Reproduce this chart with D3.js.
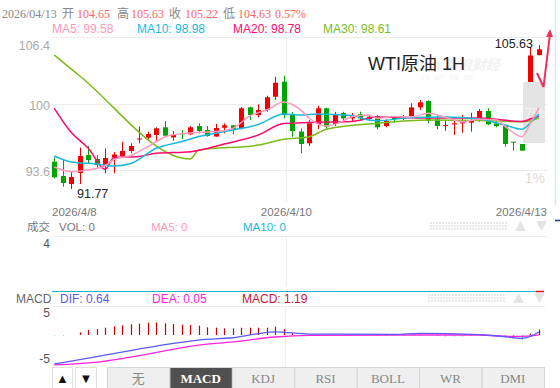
<!DOCTYPE html>
<html><head><meta charset="utf-8">
<script src="https://cdn.jsdelivr.net/npm/d3@7/dist/d3.min.js"></script>
<style>body{margin:0;background:#fff;overflow:hidden}svg{display:block}</style>
</head><body>
<svg id="c" width="560" height="388"></svg>
<script>
// ---- data ----
const opens  = [94.40,93.02,92.25,93.31,95.04,94.66,94.08,94.80,94.95,95.43,96.55,96.71,96.97,97.71,96.74,97.13,97.04,97.83,97.45,96.82,97.67,97.90,97.64,99.63,98.89,99.37,100.65,102.10,98.89,97.30,96.17,98.03,99.54,98.03,99.09,98.57,98.96,98.51,98.80,97.83,98.63,98.54,98.80,99.63,100.24,98.48,97.83,98.00,98.09,98.15,98.34,99.28,98.09,97.83,96.32,96.10,96.30,104.65];
const highs  = [94.82,94.56,93.50,95.75,95.91,95.04,95.67,95.33,96.32,96.17,97.79,97.29,97.71,98.32,97.35,97.45,97.83,98.09,97.83,98.03,98.09,97.95,99.66,99.70,99.92,100.75,102.58,102.68,99.18,97.61,98.41,99.79,99.60,99.18,99.20,99.09,99.21,98.89,98.90,98.48,98.80,98.89,100.02,100.34,100.30,98.80,98.32,98.41,98.89,99.11,99.47,99.54,98.32,97.90,96.32,96.10,105.47,105.63];
const lows   = [92.80,91.99,91.77,92.25,94.27,93.76,93.28,93.28,94.75,95.21,96.17,96.44,96.39,96.82,96.42,96.58,96.97,97.13,96.80,96.80,97.13,97.04,97.50,98.41,98.67,99.21,100.34,98.57,96.80,95.21,95.91,97.55,97.52,97.83,98.25,98.30,98.41,98.34,97.52,97.71,98.15,98.41,98.67,99.37,98.09,97.52,97.38,96.97,97.19,97.29,98.25,97.93,97.71,95.84,95.46,95.46,96.20,104.63];
const closes = [92.90,92.35,92.93,94.95,94.56,94.08,94.75,95.09,95.43,95.91,96.63,97.06,97.61,96.90,97.00,97.04,97.71,97.35,96.87,97.64,97.90,97.50,99.54,98.89,99.37,100.60,102.00,98.89,97.35,96.10,98.09,99.54,97.77,98.99,98.57,98.89,98.57,98.73,97.71,98.32,98.48,98.67,99.63,100.12,98.34,97.83,97.92,98.09,98.19,98.32,99.28,98.00,97.83,96.10,96.23,95.46,104.62,105.22];

// moving averages: [candle index, value]
const ma5Pts  = [[0,93.89],[2,93.44],[4,93.60],[6,94.03],[7,94.61],[9,94.99],[11,95.84],[13,96.78],[15,97.11],[19,97.30],[21,97.61],[23,98.80],[25,99.37],[27,100.14],[28,99.90],[29,99.37],[30,98.58],[32,97.83],[34,98.32],[35,98.73],[37,98.89],[38,98.58],[40,98.75],[42,98.70],[44,99.06],[46,98.67],[48,98.25],[50,98.48],[52,98.43],[53,97.83],[55,96.80],[56,98.05],[57,99.58]];
const ma10Pts = [[0,94.95],[2,94.37],[5,94.18],[7,93.98],[9,94.22],[12,95.69],[15,96.34],[17,96.82],[21,97.45],[24,97.98],[27,98.99],[29,98.89],[31,98.99],[35,98.84],[37,98.41],[38,98.34],[42,98.65],[46,98.70],[50,98.51],[53,97.93],[55,97.52],[56,98.12],[57,98.98]];
const ma20Pts = [[0,99.54],[2,97.20],[4,95.70],[6,93.68],[7,94.78],[10,94.90],[12,95.21],[16,95.36],[20,96.10],[24,96.97],[27,98.07],[30,98.17],[35,98.27],[38,98.70],[44,98.60],[50,98.60],[55,98.27],[56,98.50],[57,98.78]];
const ma30Pts = [[0,104.67],[3,102.65],[16,94.66],[17,95.52],[24,96.00],[27,96.55],[30,96.80],[32,97.52],[38,98.09],[44,98.41],[50,98.36],[55,98.25],[56,98.35],[57,98.61]];

const priceTicks = [106.4, 100, 93.6];
const pctLabels = ["7%", "1%"];
const dateLabels = ["2026/4/8", "2026/4/10", "2026/4/13"];
const headerDate = "2026/04/13";
const headerChange = "0.57%";
const lowLabel = 91.77, highLabel = 105.63;

const macdBars = [-0.1,-0.1,0,0.58,1.09,1.30,1.59,1.88,2.10,2.32,2.46,2.68,2.75,2.54,2.39,2.25,2.17,2.03,1.67,1.59,1.45,1.45,1.59,1.59,1.59,1.59,1.81,1.30,0.40,0,0,0,0,0,0,0,0,0,-0.2,-0.2,-0.2,-0.2,0,0.15,0,-0.25,-0.3,-0.3,-0.3,-0.25,0,0,0,-0.6,-0.8,-1.0,0.3,1.19];
const difPts = [[0,-6.3],[5,-4.7],[12,-2.4],[17,-1.1],[21,-0.6],[26,0.7],[30,0.2],[40,0.15],[43,0.37],[50,0.1],[53,-0.37],[55,-0.72],[56,-0.3],[57,0.64]];
const deaPts = [[0,-6.5],[5,-5.9],[9,-4.8],[17,-2.2],[21,-1.5],[26,-0.43],[30,-0.1],[40,0],[50,0],[54,-0.33],[56,-0.2],[57,0.05]];
const macdTicks = [5, -5];
const tabs = ["无","MACD","KDJ","RSI","BOLL","WR","DMI"];

// ---- drawing ----
const svg = d3.select("#c");
const SANS = "Arial, 'Liberation Sans', 'Noto Sans CJK SC', sans-serif";
const SERIF = "'Liberation Serif', 'Times New Roman', 'Noto Sans CJK SC', serif";
const C = {up:"#f20000", down:"#00a400", ma5:"#ff99bb", ma10:"#19b9dc", ma20:"#ff0a6c", ma30:"#7cbb1a", grid:"#ececec"};
const n = closes.length;
const x = d3.scaleLinear().domain([0, n-1]).range([54.3, 538.8]);
const y = d3.scaleLinear().domain([93.6, 106.4]).range([170, 37]);
const ym = d3.scaleLinear().domain([-5, 5]).range([358, 312]);
const L = 52, R = 547;

// header
const last = n-1;
const hdr = [
  [headerDate, 2, "#888"], ["开", 62, "#888"], [opens[last].toFixed(2), 77, "#f66"],
  ["高", 117, "#888"], [highs[last].toFixed(2), 131, "#f66"],
  ["收", 169, "#888"], [closes[last].toFixed(2), 185, "#f66"],
  ["低", 223, "#888"], [lows[last].toFixed(2), 238, "#f66"], [headerChange, 275, "#f66"]];
svg.selectAll("text.hdr").data(hdr).join("text").attr("class","hdr")
  .attr("x", d=>d[1]).attr("y", 18).attr("fill", d=>d[2])
  .style("font-family", SERIF).style("font-size","12px").text(d=>d[0]);

const legend = [["MA5: ", ma5Pts, C.ma5, 52], ["MA10: ", ma10Pts, C.ma10, 137], ["MA20: ", ma20Pts, C.ma20, 233], ["MA30: ", ma30Pts, C.ma30, 323]];
svg.selectAll("text.leg").data(legend).join("text").attr("class","leg")
  .attr("x", d=>d[3]).attr("y", 33).attr("fill", d=>d[2])
  .style("font-family", SANS).style("font-size","12px")
  .text(d=>d[0] + d[1][d[1].length-1][1].toFixed(2));

// right decorations
svg.append("line").attr("x1",555.5).attr("x2",555.5).attr("y1",0).attr("y2",205).attr("stroke","#d6e8f6").attr("stroke-width",1.5);
svg.append("line").attr("x1",555).attr("x2",560).attr("y1",220.5).attr("y2",220.5).attr("stroke","#223388").attr("stroke-width",1.5);

// grid main
svg.selectAll("line.hg").data(priceTicks).join("line").attr("class","hg")
  .attr("x1",L).attr("x2",R).attr("y1",d=>Math.round(y(d))+0.5).attr("y2",d=>Math.round(y(d))+0.5)
  .attr("stroke",C.grid);
svg.append("line").attr("x1",x(27.3)).attr("x2",x(27.3)).attr("y1",37).attr("y2",202).attr("stroke",C.grid);
svg.selectAll("text.yl").data(priceTicks).join("text").attr("class","yl")
  .attr("x",50).attr("y",(d,i)=> i===0 ? y(d)+13 : y(d)+6).attr("text-anchor","end")
  .attr("fill","#aaa").style("font-family",SANS).style("font-size","12.5px").text(d=>d);

// watermark (faint, sits behind the title as in the original)
svg.append("text").attr("x",412).attr("y",70).attr("fill","#f2f2f2").style("font-family",SANS).style("font-size","14px").style("font-style","italic").style("font-weight","bold").text("sina 新浪财经");
svg.append("text").attr("x",420).attr("y",79).attr("fill","#f3f3f3").style("font-family",SANS).style("font-size","5px").text("文章 · 图片 · 数据 · 服务");

// title
svg.append("text").attr("x",368).attr("y",70).attr("fill","#222").style("font-family",SANS).style("font-size","18px").text("WTI原油 1H");

// candles
const g = svg.append("g");
const idx = d3.range(n);
g.selectAll("line.wick").data(idx).join("line").attr("class","wick")
  .attr("x1",i=>Math.round(x(i))+0.5).attr("x2",i=>Math.round(x(i))+0.5)
  .attr("y1",i=>y(highs[i])).attr("y2",i=>y(lows[i]))
  .attr("stroke",i=>closes[i]>=opens[i]?C.up:C.down).attr("stroke-width",1);
g.selectAll("rect.body").data(idx).join("rect").attr("class","body")
  .attr("x",i=>Math.round(x(i))-2).attr("width",5)
  .attr("y",i=>y(Math.max(opens[i],closes[i])))
  .attr("height",i=>Math.max(1, Math.abs(y(opens[i])-y(closes[i]))))
  .attr("fill",i=>closes[i]>=opens[i]?C.up:C.down);

// grey box + percent labels
svg.append("rect").attr("x",523).attr("y",82).attr("width",22).attr("height",61).attr("fill","#e4e4e4");
svg.selectAll("text.pct").data(pctLabels).join("text").attr("class","pct")
  .attr("x",545).attr("y",(d,i)=>i===0?118:183).attr("text-anchor","end")
  .attr("fill",(d,i)=>i===0?"#f3f3f3":"#dcdcdc").style("font-family",SANS).style("font-size","14px").text(d=>d);

// MA lines
const line = d3.line().x(d=>x(d[0])).y(d=>y(d[1])).curve(d3.curveMonotoneX);
[[ma30Pts,C.ma30],[ma20Pts,C.ma20],[ma10Pts,C.ma10],[ma5Pts,C.ma5]].forEach(([p,c])=>{
  svg.append("path").attr("d",line(p)).attr("fill","none").attr("stroke",c).attr("stroke-width",1.5);
});

// high/low labels
svg.append("text").attr("x",77).attr("y",198).attr("fill","#222").style("font-family",SANS).style("font-size","12.5px").text(lowLabel.toFixed(2));
svg.append("text").attr("x",533).attr("y",48).attr("text-anchor","end").attr("fill","#222").style("font-family",SANS).style("font-size","12.5px").text(highLabel.toFixed(2));

// red arrow
svg.append("line").attr("x1",550).attr("y1",34).attr("x2",543.5).attr("y2",87).attr("stroke","#f0305a").attr("stroke-width",2);
svg.append("path").attr("d","M546,37 L553,37 L550,29 Z").attr("fill","#f0305a");
svg.append("line").attr("x1",537).attr("y1",73).attr("x2",543.5).attr("y2",87).attr("stroke","#f0305a").attr("stroke-width",2);

// date labels
const dPos = [[L,"start"],[x(27.3),"middle"],[R,"end"]];
svg.selectAll("text.dl").data(dateLabels).join("text").attr("class","dl")
  .attr("x",(d,i)=>dPos[i][0]).attr("y",216).attr("text-anchor",(d,i)=>dPos[i][1])
  .attr("fill","#777").style("font-family",SANS).style("font-size","11.5px").text(d=>d);

// volume pane
const vol = [["成交",27,"#777"],["VOL: 0",59,"#777"],["MA5: 0",151,C.ma5],["MA10: 0",243,C.ma10]];
svg.selectAll("text.vl").data(vol).join("text").attr("class","vl")
  .attr("x",d=>d[1]).attr("y",231).attr("fill",d=>d[2]).style("font-family",SANS).style("font-size","11.5px").text(d=>d[0]);
svg.append("line").attr("x1",L).attr("x2",R).attr("y1",236.5).attr("y2",236.5).attr("stroke",C.grid);
svg.append("line").attr("x1",x(27.3)).attr("x2",x(27.3)).attr("y1",236).attr("y2",286).attr("stroke",C.grid);
svg.append("text").attr("x",50).attr("y",248).attr("text-anchor","end").attr("fill","#555").style("font-family",SANS).style("font-size","12px").text("4");

function dotsAndArrows(yy, x0){
  [yy-3, yy, yy+3].forEach(v=>svg.append("line").attr("x1",x0).attr("x2",x0+77).attr("y1",v).attr("y2",v)
     .attr("stroke","#e2e2e2").attr("stroke-width",1.5).attr("stroke-dasharray","2,1"));
  svg.append("path").attr("d",`M${x0+85},${yy+5} L${x0+96},${yy+5} L${x0+90.5},${yy-5} Z`).attr("fill","#e4e4e4");
  svg.append("path").attr("d",`M${x0+106},${yy-5} L${x0+117},${yy-5} L${x0+111.5},${yy+5} Z`).attr("fill","#e4e4e4");
}
dotsAndArrows(226, 430);

// MACD pane
svg.append("line").attr("x1",L).attr("x2",536).attr("y1",291.5).attr("y2",291.5).attr("stroke","#1fb3c6").attr("stroke-width",1);
svg.append("line").attr("x1",536).attr("x2",544).attr("y1",291.5).attr("y2",291.5).attr("stroke","#f00").attr("stroke-width",1.5);
const mleg = [["MACD",16,"#666"],["DIF: "+difPts[difPts.length-1][1].toFixed(2),60,"#5a5af5"],["DEA: "+deaPts[deaPts.length-1][1].toFixed(2),152,"#ff22dd"],["MACD: "+macdBars[n-1].toFixed(2),242,"#cc1438"]];
svg.selectAll("text.ml").data(mleg).join("text").attr("class","ml")
  .attr("x",d=>d[1]).attr("y",303).attr("fill",d=>d[2]).style("font-family",SANS).style("font-size","12px").text(d=>d[0]);
dotsAndArrows(298, 428);
svg.append("line").attr("x1",L).attr("x2",545).attr("y1",306.5).attr("y2",306.5).attr("stroke",C.grid);
svg.append("line").attr("x1",x(27.3)-1).attr("x2",x(27.3)-1).attr("y1",306).attr("y2",368).attr("stroke",C.grid);
svg.selectAll("text.mt").data(macdTicks).join("text").attr("class","mt")
  .attr("x",50).attr("y",d=>ym(d)+5).attr("text-anchor","end").attr("fill","#555")
  .style("font-family",SANS).style("font-size","12px").text(d=>d);
svg.selectAll("line.mb").data(idx.filter(i=>macdBars[i]!==0)).join("line").attr("class","mb")
  .attr("x1",i=>Math.round(x(i))+0.5).attr("x2",i=>Math.round(x(i))+0.5)
  .attr("y1",ym(0)).attr("y2",i=>ym(macdBars[i]))
  .attr("stroke",i=>macdBars[i]>0?"#cc0000":"#2fbfaa").attr("stroke-width",1.2);
const mline = d3.line().x(d=>x(d[0])).y(d=>ym(d[1])).curve(d3.curveMonotoneX);
svg.append("path").attr("d",mline(deaPts)).attr("fill","none").attr("stroke","#ff22dd").attr("stroke-width",1.3);
svg.append("path").attr("d",mline(difPts)).attr("fill","none").attr("stroke","#5a5af5").attr("stroke-width",1.3);

// bottom buttons
const by = 367, bh = 22;
[["▲",52,20],["▼",75,21]].forEach(([t,bx,bw])=>{
  svg.append("rect").attr("x",bx+0.5).attr("y",by+0.5).attr("width",bw).attr("height",bh).attr("fill","#fff").attr("stroke","#e0e0e0");
  svg.append("text").attr("x",bx+bw/2+0.5).attr("y",by+16).attr("text-anchor","middle").attr("fill","#111").style("font-size","13px").style("font-family",SANS).text(t);
});
const tx = d3.scaleBand().domain(tabs).range([107,544]);
svg.selectAll("rect.tab").data(tabs).join("rect").attr("class","tab")
  .attr("x",d=>tx(d)+0.5).attr("y",by+0.5).attr("width",tx.bandwidth()).attr("height",bh)
  .attr("fill",d=>d==="MACD"?"#505050":"#efefef").attr("stroke","#d4d4d4");
svg.selectAll("text.tab").data(tabs).join("text").attr("class","tab")
  .attr("x",d=>tx(d)+tx.bandwidth()/2).attr("y",by+16).attr("text-anchor","middle")
  .attr("fill",d=>d==="MACD"?"#fff":"#888").style("font-weight",d=>d==="MACD"?"bold":"normal")
  .style("font-family",SERIF).style("font-size","13px").text(d=>d);
</script>
</body></html>
